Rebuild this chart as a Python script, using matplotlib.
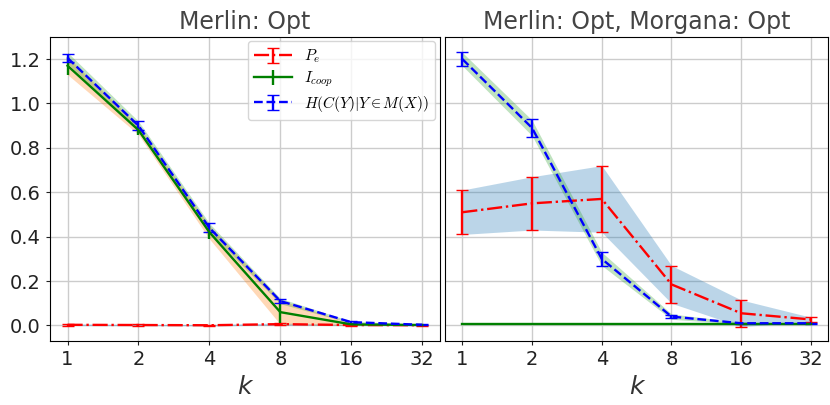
import matplotlib
matplotlib.use("Agg")
import matplotlib.pyplot as plt
import numpy as np

plt.rcParams['mathtext.fontset'] = 'cm'

k = [1, 2, 4, 8, 16, 32]

# left panel: Merlin Opt
pe_l = [0.003, 0.002, 0.001, 0.006, 0.002, 0.001]
pe_l_err = [0.004, 0.003, 0.003, 0.005, 0.003, 0.002]
ic_l = [1.17, 0.88, 0.42, 0.06, 0.005, 0.002]
ic_l_err = [0.04, 0.02, 0.03, 0.055, 0.005, 0.002]
h_l = [1.205, 0.90, 0.44, 0.11, 0.015, 0.003]
h_l_err = [0.02, 0.02, 0.02, 0.01, 0.004, 0.002]

# right panel: Merlin Opt, Morgana Opt
pe_r = [0.51, 0.55, 0.57, 0.185, 0.055, 0.027]
pe_r_err = [0.10, 0.12, 0.15, 0.085, 0.06, 0.01]
ic_r = [0.005, 0.005, 0.005, 0.005, 0.005, 0.005]
ic_r_err = [0.0, 0.0, 0.0, 0.0, 0.0, 0.0]
h_r = [1.20, 0.89, 0.30, 0.04, 0.01, 0.01]
h_r_err = [0.03, 0.04, 0.03, 0.008, 0.003, 0.003]

titles = ["Merlin: Opt", "Merlin: Opt, Morgana: Opt"]

fig = plt.figure(figsize=(8.3, 4.05), dpi=100)
ax1 = fig.add_axes([0.060, 0.158, 0.470, 0.751])
ax2 = fig.add_axes([0.536, 0.158, 0.462, 0.751], sharey=ax1)

x = np.log2(k)

def panel(ax, pe, pe_err, ic, ic_err, h, h_err, band_w, title):
    pe = np.array(pe); pe_err = np.array(pe_err)
    ic = np.array(ic); ic_err = np.array(ic_err)
    h = np.array(h); h_err = np.array(h_err)
    ax.fill_between(x, pe - pe_err, pe + pe_err, color='C0', alpha=0.3, lw=0)
    ax.fill_between(x, ic - ic_err, ic + ic_err, color='C1', alpha=0.3, lw=0)
    ax.fill_between(x, h - band_w, h + band_w, color='C2', alpha=0.3, lw=0)
    ax.errorbar(x, pe, yerr=pe_err, color='red', ls='-.', lw=1.7, capsize=4,
                elinewidth=1.7, label=r'$P_e$')
    ax.errorbar(x, ic, yerr=ic_err, color='green', ls='-', lw=1.7, capsize=0,
                elinewidth=1.7, label=r'$I_{coop}$')
    ax.errorbar(x, h, yerr=h_err, color='blue', ls='--', lw=1.7, capsize=4,
                elinewidth=1.7, label=r'$H(C(Y)|Y\in M(X))$')
    ax.set_title(title, fontsize=17, color='#444444')
    ax.set_xticks(x)
    ax.set_xticklabels([str(v) for v in k])
    ax.set_xlabel('k', fontsize=18, style='italic', color='#333333')
    ax.grid(True, color='#cccccc', lw=1)
    ax.set_axisbelow(True)
    ax.tick_params(labelsize=14, colors='#222222', length=3)

panel(ax1, pe_l, pe_l_err, ic_l, ic_l_err, h_l, h_l_err,
      np.array([0.025, 0.02, 0.02, 0.012, 0.004, 0.002]), titles[0])
panel(ax2, pe_r, pe_r_err, ic_r, ic_r_err, h_r, h_r_err,
      np.array([0.03, 0.035, 0.03, 0.012, 0.004, 0.003]), titles[1])

ax1.set_ylim(-0.07, 1.3)
ax1.set_yticks([0.0, 0.2, 0.4, 0.6, 0.8, 1.0, 1.2])
ax2.tick_params(labelleft=False, left=False)
ax1.legend(loc='upper right', fontsize=11, handlelength=2.5, borderaxespad=0.3,
           labelspacing=0.3)

fig.savefig('out.png', dpi=100)
